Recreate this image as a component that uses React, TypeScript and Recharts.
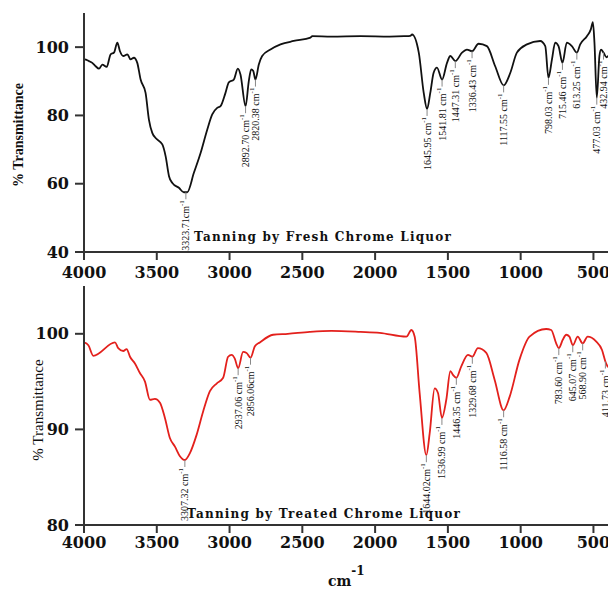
import React from "react";
import { LineChart, Line, XAxis, YAxis, ReferenceDot } from "recharts";

// ---------- data ----------
const xTicks = [4000, 3500, 3000, 2500, 2000, 1500, 1000, 500];
const freshYTicks = [40, 60, 80, 100];
const treatedYTicks = [80, 90, 100];

const freshWn = [4000, 3995, 3966, 3943, 3920, 3897, 3874, 3844, 3817, 3794, 3771, 3753, 3730, 3702, 3680, 3657, 3634, 3611, 3577, 3554, 3531, 3508, 3462, 3439, 3416, 3393, 3348, 3314, 3291, 3245, 3199, 3153, 3119, 3085, 3062, 3028, 3005, 2971, 2943, 2925, 2890, 2868, 2851, 2837, 2822, 2799, 2776, 2719, 2650, 2559, 2444, 2432, 2300, 2100, 1900, 1800, 1758, 1746, 1700, 1666, 1643, 1621, 1598, 1575, 1540, 1506, 1483, 1449, 1403, 1369, 1334, 1289, 1232, 1175, 1117, 1071, 1026, 957, 866, 831, 809, 785, 763, 740, 713, 683, 648, 614, 591, 545, 518, 504, 493, 477, 459, 448, 431, 410, 400];
const freshT = [96.0, 96.4, 95.9, 95.4, 94.4, 93.7, 94.9, 94.2, 97.9, 98.4, 101.3, 98.8, 97.4, 97.9, 96.4, 96.9, 95.4, 90.5, 86.6, 78.8, 74.9, 73.4, 71.5, 68.0, 62.2, 60.2, 58.8, 57.5, 57.5, 63.2, 69.0, 75.9, 80.3, 82.2, 82.7, 86.6, 89.7, 90.5, 93.7, 92.0, 82.7, 90.0, 93.5, 93.0, 90.5, 94.9, 97.4, 99.3, 100.8, 101.8, 102.8, 103.2, 103.1, 103.2, 103.1, 103.2, 103.3, 103.7, 98.4, 86.6, 81.9, 86.6, 92.5, 94.0, 90.5, 95.4, 97.4, 95.9, 98.4, 99.3, 98.8, 101.0, 100.3, 94.4, 88.8, 92.5, 98.4, 100.8, 101.8, 100.3, 91.0, 96.4, 101.3, 100.3, 95.4, 101.3, 100.3, 98.4, 100.8, 103.2, 105.2, 107.3, 101.3, 85.2, 97.4, 99.3, 98.4, 97.0, 97.5];

const treatedWn = [4000, 3970, 3936, 3787, 3765, 3730, 3707, 3684, 3650, 3616, 3581, 3547, 3513, 3478, 3444, 3410, 3375, 3341, 3307, 3273, 3227, 3181, 3135, 3089, 3044, 3010, 2986, 2964, 2941, 2907, 2883, 2856, 2826, 2792, 2701, 2600, 2449, 2300, 2100, 1969, 1785, 1751, 1728, 1694, 1648, 1625, 1591, 1568, 1541, 1511, 1483, 1465, 1442, 1408, 1362, 1332, 1294, 1236, 1179, 1117, 1076, 1008, 939, 825, 790, 756, 738, 710, 687, 665, 642, 608, 574, 540, 482, 441, 418, 400];
const treatedT = [99.1, 98.8, 97.7, 99.1, 98.5, 98.2, 98.4, 97.6, 96.9, 95.9, 95.0, 93.1, 93.2, 92.8, 91.2, 89.1, 88.2, 87.2, 86.8, 87.5, 89.4, 91.9, 94.0, 94.8, 95.4, 97.6, 97.8, 97.4, 96.4, 98.1, 98.0, 97.5, 98.7, 99.1, 99.9, 100.0, 100.2, 100.3, 100.2, 100.1, 99.7, 100.4, 99.7, 93.8, 87.3, 89.6, 94.3, 93.8, 91.2, 93.1, 96.1, 95.7, 95.4, 96.6, 97.8, 97.6, 98.5, 98.0, 95.2, 92.0, 93.4, 97.3, 99.7, 100.5, 100.4, 99.0, 98.5, 99.4, 99.9, 99.7, 98.8, 99.7, 99.0, 99.7, 99.2, 98.3, 97.1, 96.5];

const freshPeakX = [3300, 2890, 2822, 1643, 1540, 1449, 1334, 1117, 809, 713, 614, 477, 431];
const freshPeakY = [57.5, 82.7, 90.5, 81.9, 90.5, 95.9, 98.8, 88.8, 91.0, 95.4, 98.4, 85.2, 98.4];
const freshPeakLabels = ["3323.71cm", "2892.70 cm", "2820.38 cm", "1645.95 cm", "1541.81 cm", "1447.31 cm", "1336.43 cm", "1117.55 cm", "798.03 cm", "715.46 cm", "613.25 cm", "477.03 cm", "432.94 cm"];

const treatedPeakX = [3307, 2941, 2856, 1648, 1541, 1442, 1332, 1117, 738, 642, 574, 418];
const treatedPeakY = [86.8, 96.4, 97.5, 87.3, 91.2, 95.4, 97.6, 92.0, 98.5, 98.8, 99.0, 97.1];
const treatedPeakLabels = ["3307.32 cm", "2937.06 cm", "2856.06cm", "1644.02cm", "1536.99 cm", "1446.35 cm", "1329.68 cm", "1116.58 cm", "783.60 cm", "645.07 cm", "568.90 cm", "411.73 cm"];

const freshData = freshWn.map((wn, i) => ({ wn, t: freshT[i] }));
const treatedData = treatedWn.map((wn, i) => ({ wn, t: treatedT[i] }));

// ---------- styles ----------
const TICK_FONT = "'DejaVu Serif', serif";
const TEXT_FONT = "'Liberation Serif', 'Times New Roman', serif";
const AXIS_COLOR = "#333";

const tickStyle = { fontFamily: TICK_FONT, fontWeight: 700, fontSize: 16, fill: "#111" };

function PeakMark(props: any) {
  const { cx, cy, text } = props;
  if (cx == null || cy == null) return null;
  return (
    <g>
      <line x1={cx} y1={cy} x2={cx} y2={cy + 7} stroke="#888" strokeWidth={1} />
      <text
        transform={`translate(${cx + 3.5},${cy + 8}) rotate(-90)`}
        textAnchor="end"
        fontFamily={TEXT_FONT}
        fontSize={10}
        fill="#111"
      >
        {text}
        <tspan dy={-5} fontSize={7}>-1</tspan>
      </text>
    </g>
  );
}

function Title(props: { x: number; y: number; text: string }) {
  return (
    <text
      x={props.x}
      y={props.y}
      textAnchor="middle"
      fontFamily={TICK_FONT}
      fontWeight={700}
      fontSize={12}
      letterSpacing={1.2}
      fill="#111"
    >
      {props.text}
    </text>
  );
}

export default function App() {
  return (
    <div style={{ position: "absolute", left: 8, top: 8, width: 600, height: 584, overflow: "hidden" }}>
      <LineChart width={600} height={275} data={freshData} margin={{ top: 5, right: 0, bottom: 0, left: 0 }}>
        <XAxis
          dataKey="wn"
          type="number"
          domain={[400, 4000]}
          reversed
          ticks={xTicks}
          interval={0}
          allowDataOverflow
          height={31}
          tick={tickStyle}
          tickSize={8}
          tickMargin={7}
          stroke={AXIS_COLOR}
          strokeWidth={2}
          label={{
            content: () => <Title x={315} y={233} text="Tanning by Fresh Chrome Liquor" />,
          }}
        />
        <YAxis
          type="number"
          domain={[40, 110]}
          ticks={freshYTicks}
          allowDataOverflow
          width={76}
          tick={tickStyle}
          tickSize={9}
          tickMargin={6}
          stroke={AXIS_COLOR}
          strokeWidth={2}
          label={{
            content: () => (
              <text
                transform="translate(15,127) rotate(-90)"
                textAnchor="middle"
                fontFamily={TEXT_FONT}
                fontWeight={700}
                fontSize={14}
                fill="#111"
              >
                % Transmittance
              </text>
            ),
          }}
        />
        <Line
          type="monotone"
          dataKey="t"
          stroke="#111"
          strokeWidth={1.8}
          dot={false}
          isAnimationActive={false}
        />
        {freshPeakX.map((x, i) => (
          <ReferenceDot
            key={"f" + i}
            x={x}
            y={freshPeakY[i]}
            r={0}
            shape={(p: any) => <PeakMark {...p} text={freshPeakLabels[i]} />}
          />
        ))}
      </LineChart>
      <LineChart width={600} height={309} data={treatedData} margin={{ top: 3, right: 0, bottom: 0, left: 0 }}>
        <XAxis
          dataKey="wn"
          type="number"
          domain={[400, 4000]}
          reversed
          ticks={xTicks}
          interval={0}
          allowDataOverflow
          height={67}
          tick={tickStyle}
          tickSize={8}
          tickMargin={4}
          stroke={AXIS_COLOR}
          strokeWidth={2}
          label={{
            content: () => (
              <g>
                <Title x={316} y={235} text="Tanning by Treated Chrome Liquor" />
                <text x={320} y={303} fontFamily={TICK_FONT} fontWeight={700} fontSize={14} fill="#111">
                  cm
                  <tspan dy={-11} fontSize={12}>-1</tspan>
                </text>
              </g>
            ),
          }}
        />
        <YAxis
          type="number"
          domain={[80, 105]}
          ticks={treatedYTicks}
          allowDataOverflow
          width={76}
          tick={tickStyle}
          tickSize={9}
          tickMargin={6}
          stroke={AXIS_COLOR}
          strokeWidth={2}
          label={{
            content: () => (
              <text
                transform="translate(35,127) rotate(-90)"
                textAnchor="middle"
                fontFamily={TEXT_FONT}
                fontSize={15}
                fill="#111"
              >
                % Transmittance
              </text>
            ),
          }}
        />
        <Line
          type="monotone"
          dataKey="t"
          stroke="#e3201c"
          strokeWidth={1.8}
          dot={false}
          isAnimationActive={false}
        />
        {treatedPeakX.map((x, i) => (
          <ReferenceDot
            key={"t" + i}
            x={x}
            y={treatedPeakY[i]}
            r={0}
            shape={(p: any) => <PeakMark {...p} text={treatedPeakLabels[i]} />}
          />
        ))}
      </LineChart>
    </div>
  );
}
